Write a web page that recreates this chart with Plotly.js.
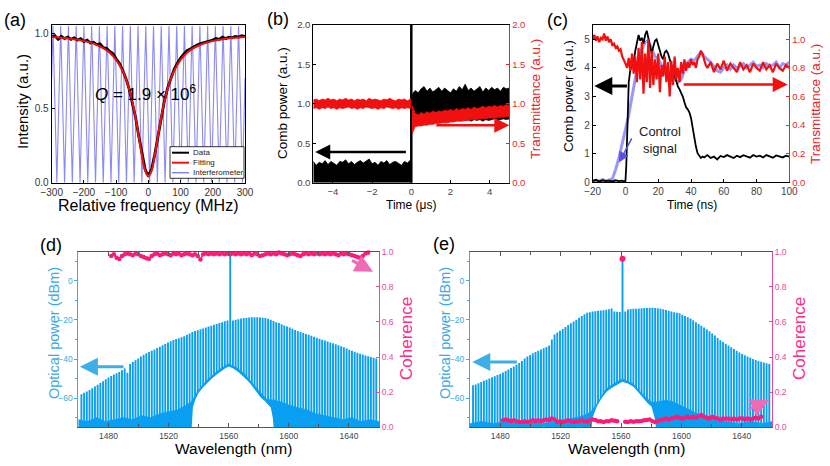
<!DOCTYPE html>
<html>
<head>
<meta charset="utf-8">
<script src="https://cdn.plot.ly/plotly-3.0.1.min.js"></script>
<style>
  html, body { margin: 0; padding: 0; background: #fff; }
  #chart { width: 830px; height: 466px; }
</style>
</head>
<body>
<div id="chart"></div>
<script>
// ---------- (a) resonance ----------
const interfFreq = [-300,-296,-284,-272,-260,-248,-236,-224,-212,-200,-188,-176,-164,-152,-140,-128,-116,-104,-92,-80,-68,-56,-44,-32,-20,-8,4,16,28,40,52,64,76,88,100,112,124,136,148,160,172,184,196,208,220,232,244,256,268,280,292,300];
const interfVal = [0.7,1.05,0,1.05,0,1.05,0,1.05,0,1.05,0,1.05,0,1.05,0,1.05,0,1.05,0,1.05,0,1.05,0,1.05,0,1.05,0,1.05,0,1.05,0,1.05,0,1.05,0,1.05,0,1.05,0,1.05,0,1.05,0,1.05,0,1.05,0,1.05,0,1.05,0,0.7];

const dataFreq = [-300,-290,-280,-270,-260,-250,-240,-230,-220,-210,-200,-190,-180,-170,-160,-150,-140,-130,-120,-110,-100,-90,-80,-70,-60,-50,-40,-30,-20,-10,-5,0,5,10,20,30,40,50,60,70,80,90,100,110,120,130,140,150,160,170,180,190,200,210,220,230,240,250,260,270,280,290,300];
const dataVal = [0.975,0.985,0.96,0.98,0.965,0.975,0.96,0.97,0.955,0.965,
  0.945,0.955,0.935,0.94,0.925,0.93,0.905,0.9,0.88,0.865,
  0.83,0.8,0.755,0.70,0.63,0.545,0.44,0.315,0.19,0.09,
  0.065,0.06,0.065,
  0.09,0.19,0.32,0.445,0.55,0.635,0.705,0.76,0.8,0.835,
  0.86,0.885,0.895,0.91,0.92,0.93,0.935,0.945,0.95,0.955,
  0.965,0.96,0.975,0.965,0.975,0.97,0.98,0.975,0.985,0.98];

const fitFreq = [-300,-280,-260,-240,-220,-200,-180,-160,-140,-120,-100,-80,-70,-60,-50,-40,-30,-20,-10,0,10,20,30,40,50,60,70,80,100,120,140,160,180,200,220,240,260,280,300];
const fitVal = [0.976,0.973,0.969,0.964,0.958,0.949,0.938,0.922,0.901,0.870,0.823,0.750,0.697,0.630,0.545,0.438,0.314,0.184,0.081,0.040,0.081,0.184,0.314,0.438,0.545,0.630,0.697,0.750,0.823,0.870,0.901,0.922,0.938,0.949,0.958,0.964,0.969,0.973,0.976];

// ---------- (b) switching, microseconds ----------
const bPreT = [-5,-4.85,-4.7,-4.55,-4.4,-4.25,-4.1,-3.95,-3.8,-3.65,-3.5,-3.35,-3.2,-3.05,-2.9,-2.75,-2.6,-2.45,-2.3,-2.15,-2,-1.85,-1.7,-1.55,-1.4,-1.25,-1.1,-0.95,-0.8,-0.65,-0.5,-0.35,-0.2,-0.03];
const combPreTop = [0.27,0.22,0.26,0.24,0.28,0.23,0.27,0.25,0.22,0.27,0.26,0.29,0.24,0.27,0.23,0.26,0.28,0.25,0.27,0.3,0.24,0.26,0.22,0.27,0.25,0.28,0.23,0.26,0.27,0.24,0.22,0.27,0.25,0.29];
const transPreLow = [0.94,0.95,0.93,0.95,0.94,0.96,0.94,0.95,0.93,0.95,0.94,0.95,0.96,0.94,0.95,0.93,0.95,0.94,0.96,0.95,0.94,0.95,0.93,0.95,0.94,0.96,0.95,0.94,0.95,0.93,0.95,0.94,0.95,0.94];
const transPreHigh = [1.05,1.06,1.04,1.06,1.05,1.07,1.05,1.06,1.04,1.06,1.05,1.07,1.05,1.06,1.04,1.06,1.05,1.06,1.04,1.07,1.05,1.06,1.05,1.04,1.06,1.05,1.07,1.05,1.04,1.06,1.05,1.06,1.04,1.06];

const bPostT = [0.04,0.2,0.35,0.5,0.65,0.8,0.95,1.1,1.25,1.4,1.55,1.7,1.85,2,2.15,2.3,2.45,2.6,2.75,2.9,3.05,3.2,3.35,3.5,3.65,3.8,3.95,4.1,4.25,4.4,4.55,4.7,4.85,5];
const combPostTop = [1.12,1.17,1.14,1.19,1.22,1.16,1.2,1.15,1.18,1.21,1.16,1.2,1.17,1.14,1.19,1.16,1.22,1.18,1.25,1.17,1.2,1.16,1.19,1.22,1.15,1.2,1.17,1.21,1.18,1.2,1.16,1.21,1.19,1.2];
const combPostLow = [0.84,0.84,0.83,0.84,0.83,0.82,0.83,0.82,0.83,0.82,0.81,0.82,0.81,0.82,0.8,0.81,0.8,0.81,0.79,0.8,0.78,0.8,0.79,0.8,0.78,0.8,0.79,0.8,0.81,0.79,0.8,0.81,0.8,0.81];
const transPostLow = [0.62,0.71,0.72,0.72,0.73,0.73,0.74,0.74,0.75,0.75,0.76,0.76,0.76,0.77,0.77,0.78,0.78,0.78,0.79,0.79,0.8,0.8,0.8,0.81,0.81,0.81,0.82,0.82,0.82,0.83,0.83,0.83,0.84,0.84];
const transPostHigh = [0.98,0.88,0.86,0.89,0.87,0.9,0.88,0.91,0.89,0.91,0.9,0.92,0.91,0.93,0.91,0.94,0.92,0.94,0.93,0.95,0.93,0.96,0.94,0.95,0.97,0.95,0.97,0.96,0.98,0.96,0.98,0.97,0.99,0.98];

// ---------- (c) switching, nanoseconds ----------
const cBlueT = [-20,-18,-16,-14,-12,-10,-8,-6,-4,-2,0,2,4,6,8,10,12,14,16,18,20,22,24,26,28,30,32,34,36,38,40,42,44,46,48,50,52,54,56,58,60,62,64,66,68,70,72,74,76,78,80,82,84,86,88,90,92,94,96,98,100];
const cBlueV = [0.05,0.08,0.03,0.1,0.05,0.08,0.12,0.45,0.85,1.35,
  1.8,2.35,3.0,3.6,4.25,4.65,4.9,4.95,4.7,4.4,
  4.3,4.1,3.8,3.7,3.9,3.6,3.5,3.6,3.9,4.2,
  4.3,4.25,4.4,4.55,4.4,4.3,4.2,4.05,3.9,3.85,
  4.0,4.1,3.95,4.1,4.0,4.05,4.15,4.0,4.1,4.2,
  4.05,4.1,4.0,4.15,4.05,4.1,4.2,4.0,4.15,4.1,
  4.2];

const cBlackT = [-20,-18,-16,-14,-12,-10,-8,-6,-4,-2,
  -1,0,0.5,1,1.5,2,3,4,5,6,
  7,8,9,10,11,12,13,14,15,16,
  17,18,19,20,21,22,23,24,25,26,
  27,28,29,30,31,32,33,34,35,36,
  37,38,39,40,41,42,43,44,45,46,
  47,48,50,52,54,56,58,60,62,64,
  66,68,70,72,74,76,78,80,82,84,
  86,88,90,92,94,96,98,100];
const cBlackV = [0.05,0.08,0.03,0.07,0.04,0.06,0.03,0.07,0.04,0.06,
  0.03,0.05,0.6,1.8,2.8,3.5,3.95,4.05,4.2,4.6,
  4.95,5.15,4.95,5.05,4.85,5.15,5.3,5.0,4.7,4.5,
  4.75,4.95,5.0,4.8,4.55,4.4,4.3,4.55,4.6,4.5,
  4.3,4.1,3.9,3.75,3.55,3.35,3.25,3.15,3.0,2.8,
  2.62,2.55,2.45,2.25,1.9,1.55,1.25,1.02,0.92,0.85,
  0.9,0.87,0.95,0.85,0.9,0.8,0.92,0.88,0.95,0.9,
  0.85,0.93,0.88,0.95,0.9,0.86,0.95,0.9,0.93,0.87,
  0.95,0.9,0.86,0.94,0.9,0.87,0.93,0.9];

const cRedT = [-20,-19,-18,-17,-16,-15,-14,-13,-12,-11,
  -10,-9,-8,-7,-6,-5,-4,-3,-2,-1,
  0,1,2,3,4,5,6,7,8,9,
  10,11,12,13,14,15,16,17,18,19,
  20,21,22,23,24,25,26,27,28,29,
  30,31,32,33,34,35,36,37,38,39,
  40,41,42,43,44,45,46,47,48,49,
  50,52,54,56,58,60,62,64,66,68,
  70,72,74,76,78,80,82,84,86,88,
  90,92,94,96,98,100];
const cRedV = [1.0,1.03,0.99,1.02,0.98,1.01,1.0,1.04,0.99,1.02,
  0.98,1.0,0.96,0.97,0.94,0.95,0.92,0.93,0.88,0.86,
  0.83,0.80,0.87,0.78,0.9,0.76,0.88,0.7,0.94,0.72,
  0.98,0.62,0.9,0.7,1.0,0.66,0.92,0.68,0.86,0.72,
  0.9,0.63,0.82,0.74,0.88,0.7,0.84,0.6,0.85,0.68,
  0.88,0.72,0.8,0.7,0.84,0.76,0.86,0.78,0.84,0.8,
  0.86,0.82,0.84,0.8,0.86,0.88,0.92,0.9,0.86,0.82,
  0.8,0.84,0.77,0.83,0.79,0.85,0.78,0.83,0.8,0.77,
  0.84,0.79,0.82,0.77,0.83,0.8,0.78,0.84,0.79,0.82,
  0.77,0.83,0.8,0.78,0.82,0.8];

// ---------- (d), (e) comb spectra ----------
const combNm = [1462.0,1463.8,1465.6,1467.4,1469.2,1471.0,1472.8,1474.6,1476.4,1478.2,
  1480.0,1481.8,1483.6,1485.4,1487.2,1489.0,1490.8,1492.6,1494.4,1496.2,
  1498.0,1499.8,1501.6,1503.4,1505.2,1507.0,1508.8,1510.6,1512.4,1514.2,
  1516.0,1517.8,1519.6,1521.4,1523.2,1525.0,1526.8,1528.6,1530.4,1532.2,
  1534.0,1535.8,1537.6,1539.4,1541.2,1543.0,1544.8,1546.6,1548.4,1550.2,
  1552.0,1553.8,1555.6,1557.4,1559.2,1561.0,1562.8,1564.6,1566.4,1568.2,
  1570.0,1571.8,1573.6,1575.4,1577.2,1579.0,1580.8,1582.6,1584.4,1586.2,
  1588.0,1589.8,1591.6,1593.4,1595.2,1597.0,1598.8,1600.6,1602.4,1604.2,
  1606.0,1607.8,1609.6,1611.4,1613.2,1615.0,1616.8,1618.6,1620.4,1622.2,
  1624.0,1625.8,1627.6,1629.4,1631.2,1633.0,1634.8,1636.6,1638.4,1640.2,
  1642.0,1643.8,1645.6,1647.4,1649.2,1651.0,1652.8,1654.6,1656.4,1658.2];

const combTopD = [-58.0,-57.3,-56.6,-55.9,-55.0,-54.1,-53.2,-52.3,-51.4,-50.4,
  -49.5,-48.7,-48.0,-47.3,-46.6,-45.8,-44.9,-47.0,-42.6,-41.5,
  -40.6,-39.7,-38.7,-37.8,-37.1,-36.4,-35.8,-35.1,-34.4,-33.7,
  -33.0,-32.3,-31.6,-30.9,-30.3,-29.8,-29.3,-28.8,-28.3,-27.6,
  -26.9,-26.2,-25.7,-25.2,-24.8,-24.3,-23.8,-23.4,-22.9,-22.5,
  -22.0,-21.5,-21.1,-20.7,-20.3,16,-20.2,-19.9,-19.6,-19.3,
  -19.0,-18.8,-18.7,-18.6,-18.6,-18.6,-18.7,-18.8,-19.0,-19.4,
  -19.9,-20.5,-21.1,-21.6,-22.2,-22.8,-23.4,-23.9,-24.5,-25.1,
  -25.6,-26.2,-26.7,-27.2,-27.6,-28.1,-28.6,-29.1,-29.6,-30.1,
  -30.5,-31.0,-31.5,-31.9,-32.4,-33.0,-33.5,-34.0,-34.6,-35.2,
  -35.8,-36.3,-36.8,-37.3,-37.7,-38.2,-38.6,-39.0,-39.4,-39.8];

const combTopE = [-53.5,-53.0,-52.4,-51.8,-51.2,-50.6,-50.0,-49.4,-48.8,-48.2,
  -47.6,-46.9,-46.2,-45.4,-44.6,-43.8,-43.0,-42.1,-41.0,-39.8,
  -38.7,-37.9,-37.1,-36.4,-35.8,-35.1,-34.5,-33.8,-33.1,-30.0,
  -27.5,-26.4,-25.5,-24.6,-23.6,-22.6,-21.7,-20.8,-19.9,-18.9,
  -17.9,-17.0,-16.3,-16.0,-15.7,-15.5,-15.3,-15.2,-15.0,-14.8,
  -14.5,-14.1,-15.6,-15.8,-15.9,11.6,-15.6,-14.6,-14.4,-14.3,
  -14.2,-14.1,-14.0,-13.9,-13.8,-13.7,-13.7,-13.8,-14.0,-14.2,
  -14.5,-14.9,-15.3,-15.7,-16.0,-16.3,-16.6,-17.3,-18.0,-18.6,
  -19.2,-20.1,-21.1,-22.1,-23.0,-23.9,-24.8,-25.8,-26.9,-28.0,
  -29.2,-30.4,-31.3,-32.2,-33.1,-34.0,-34.9,-35.8,-36.7,-37.4,
  -38.1,-38.7,-39.4,-40.0,-40.5,-41.0,-41.4,-41.8,-42.2,-42.6];

// noise floor (solid blue) upper edge, and the clear region under the pump pedestal
const noiseNmD = [1460,1460,1466,1472,1478,1484,1490,1496,1502,1508,1514,1520,1526,1531,1535,1540,1545,1550,1555,1560,1565,1570,1575,1580,1585,1590,1595,1600,1606,1612,1618,1624,1630,1636,1642,1648,1654,1660,1660];
const noiseDbmD = [-76,-71,-72,-70,-72,-71,-70,-71,-69,-70,-68,-67,-66,-64,-62,-55.8,-51.3,-47.7,-44.7,-42.4,-44.3,-47.2,-51.7,-56.5,-60.5,-61,-62,-63.5,-65,-66,-68,-69,-70,-71,-70,-72,-71,-72,-76];
const holeNmD = [1535.3,1536.2,1538,1540,1543,1546,1549,1552,1555,1558,1560.2,1563,1566,1569,1572,1575,1578,1581,1584,1586,1588,1589.3,1590];
const holeDbmD = [-76,-64.5,-60.5,-57.3,-54.5,-52,-49.8,-48,-46.2,-44.6,-43.9,-44.8,-46.4,-48.3,-50.6,-53.2,-56.6,-59.5,-61.5,-63,-64.8,-70,-76];

const noiseNmE = [1460,1460,1468,1476,1484,1492,1500,1508,1516,1524,1530,1535,1540,1544,1550,1557,1561,1568,1575,1580,1584,1590,1595,1600,1605,1610,1616,1622,1630,1638,1646,1654,1660,1660];
const noiseDbmE = [-76,-73,-72,-73,-72,-73,-72,-73,-72,-71,-70,-69,-67,-63,-55.3,-51.8,-50.1,-52.7,-58.7,-62,-62,-61,-62,-64,-66,-68,-70,-71,-72,-73,-72,-73,-72,-76];
const holeNmE = [1540.4,1541.2,1543.9,1547,1550.5,1554,1557.2,1560.9,1564.5,1568.2,1571.5,1574.8,1577.5,1580.3,1582.5,1583.3];
const holeDbmE = [-76,-70,-64.5,-60.2,-56.8,-54.7,-53.3,-51.6,-52.6,-54.2,-57,-60.2,-62.5,-64.5,-71,-76];

// coherence per comb line, lines 11..106
const cohD = [0.975,0.985,0.965,0.958,0.975,0.985,0.99,0.985,0.98,0.99,
  0.985,0.975,0.97,0.962,0.96,0.975,0.985,0.99,0.98,0.985,
  0.99,0.985,0.98,0.99,0.985,0.99,0.98,0.985,0.99,0.985,
  0.98,0.985,0.975,0.955,0.985,0.99,0.985,0.99,0.985,0.99,
  0.985,0.99,0.985,0.99,0.985,0.99,0.985,0.99,0.985,0.99,
  0.985,0.99,0.98,0.99,0.985,0.975,0.98,0.985,0.99,0.985,
  0.99,0.985,0.995,0.99,0.985,0.98,0.985,0.99,0.985,0.98,
  0.975,0.985,0.99,0.985,0.99,0.985,0.99,0.985,0.99,0.985,
  0.99,0.985,0.99,0.985,0.98,0.99,0.985,0.99,0.985,0.98,
  0.975,0.97,0.965,0.975,0.99,0.995];
const cohE = [0.04,0.045,0.04,0.035,0.04,0.035,0.03,0.03,0.035,0.03,
  0.035,0.04,0.035,0.04,0.035,0.04,0.045,0.04,0.05,0.045,
  0.03,0.035,0.03,0.035,0.04,0.035,0.03,0.035,0.035,0.04,
  0.035,0.033,0.04,0.045,0.042,0.035,0.035,0.03,0.035,0.035,
  0.04,0.038,0.035,null,null,0.032,0.03,0.035,0.032,0.035,
  0.035,0.036,0.04,0.042,0.045,0.035,0.03,0.038,0.04,0.045,
  0.05,0.045,0.05,0.055,0.06,0.055,0.05,0.055,0.06,0.055,
  0.06,0.055,0.065,0.07,0.06,0.055,0.05,0.06,0.055,0.05,
  0.045,0.05,0.048,0.05,0.045,0.05,0.045,0.05,0.052,0.045,
  0.05,0.045,0.05,0.055,0.05,0.06];
const pumpCohE = [0.96];

// ---------- styling ----------
const W = 830, H = 466;
const px = v => v / W;
const py = v => 1 - v / H;
const FONT = 'Liberation Sans, Arial, sans-serif';
const RED = '#f20f0f';
const RED_AX = '#e8232b';
const COMB = '#0a9ff0';
const BLUE_AX = '#3aa9e6';
const PINK = '#ff1a78';
const PINK_AX = '#e64b98';
const FLOOR = -80;

function band(t, low, high) {
  return { x: t.concat(t.slice().reverse()), y: low.concat(high.slice().reverse()) };
}
function combSegments(nm, top) {
  const x = [], y = [];
  nm.forEach((v, i) => { x.push(v, v, null); y.push(FLOOR, top[i], null); });
  return { x, y };
}

const traces = [];
// (a)
traces.push({ x: interfFreq, y: interfVal, xaxis: 'x', yaxis: 'y', mode: 'lines',
  line: { color: 'rgba(118,118,242,0.85)', width: 1.1 } });
traces.push({ x: dataFreq, y: dataVal, xaxis: 'x', yaxis: 'y', mode: 'lines',
  line: { color: '#000', width: 2.8 } });
traces.push({ x: fitFreq, y: fitVal, xaxis: 'x', yaxis: 'y', mode: 'lines',
  line: { color: RED, width: 2, shape: 'spline' } });

// (b)
traces.push({ x: bPreT, y: combPreTop, xaxis: 'x2', yaxis: 'y2', mode: 'lines', fill: 'tozeroy',
  fillcolor: '#000', line: { color: '#000', width: 0.8 } });
const bPost = band(bPostT, combPostLow, combPostTop);
traces.push({ x: bPost.x, y: bPost.y, xaxis: 'x2', yaxis: 'y2', mode: 'lines', fill: 'toself',
  fillcolor: '#000', line: { color: '#000', width: 0.8 } });
traces.push({ x: [0, 0], y: [0, 2], xaxis: 'x2', yaxis: 'y2', mode: 'lines',
  line: { color: '#000', width: 2.5 } });
const tPre = band(bPreT, transPreLow, transPreHigh);
traces.push({ x: tPre.x, y: tPre.y, xaxis: 'x2', yaxis: 'y3', mode: 'lines', fill: 'toself',
  fillcolor: RED, line: { color: RED, width: 0.8 } });
const tPost = band(bPostT, transPostLow, transPostHigh);
traces.push({ x: tPost.x, y: tPost.y, xaxis: 'x2', yaxis: 'y3', mode: 'lines', fill: 'toself',
  fillcolor: RED, line: { color: RED, width: 0.8 } });

// (c)
traces.push({ x: cBlueT, y: cBlueV, xaxis: 'x3', yaxis: 'y4', mode: 'lines',
  line: { color: 'rgba(118,118,250,0.75)', width: 3 } });
traces.push({ x: cBlackT, y: cBlackV, xaxis: 'x3', yaxis: 'y4', mode: 'lines',
  line: { color: '#000', width: 1.8 } });
traces.push({ x: cRedT, y: cRedV, xaxis: 'x3', yaxis: 'y5', mode: 'lines',
  line: { color: RED, width: 2.2 } });

// (d) and (e)
function spectrum(xa, ya, top, noiseNm, noiseDbm, holeNm, holeDbm) {
  traces.push({ x: noiseNm, y: noiseDbm, xaxis: xa, yaxis: ya, mode: 'lines', fill: 'toself',
    fillcolor: COMB, line: { color: COMB, width: 0.5 } });
  const seg = combSegments(combNm, top);
  traces.push({ x: seg.x, y: seg.y, xaxis: xa, yaxis: ya, mode: 'lines', connectgaps: false,
    line: { color: COMB, width: 1.9 } });
  traces.push({ x: holeNm, y: holeDbm, xaxis: xa, yaxis: ya, mode: 'lines', fill: 'toself',
    fillcolor: '#fff', line: { color: '#fff', width: 0 } });
}
spectrum('x4', 'y6', combTopD, noiseNmD, noiseDbmD, holeNmD, holeDbmD);
traces.push({ x: combNm.slice(11, 107), y: cohD, xaxis: 'x4', yaxis: 'y7', mode: 'lines+markers',
  cliponaxis: false, line: { color: PINK, width: 1.5 }, marker: { color: PINK, size: 4.5 } });
spectrum('x5', 'y8', combTopE, noiseNmE, noiseDbmE, holeNmE, holeDbmE);
traces.push({ x: combNm.slice(11, 107), y: cohE, xaxis: 'x5', yaxis: 'y9', mode: 'lines+markers',
  connectgaps: false, cliponaxis: false, line: { color: PINK, width: 1.5 }, marker: { color: PINK, size: 4.5 } });
traces.push({ x: [combNm[55]], y: pumpCohE, xaxis: 'x5', yaxis: 'y9', mode: 'markers',
  cliponaxis: false, marker: { color: PINK, size: 6 } });

traces.forEach(t => { t.showlegend = false; t.hoverinfo = 'skip'; });

function ax(extra) {
  return Object.assign({ showgrid: false, zeroline: false, showline: true, linecolor: '#000', linewidth: 1,
    ticks: 'inside', ticklen: 3, tickcolor: '#000', tickfont: { size: 10, color: '#333' } }, extra);
}
const topRow = [py(182.7), py(25)];
const botRow = [py(427.3), py(251.7)];
const specX = (dom, anchor) => ax({ domain: dom, anchor: anchor, range: [1460, 1660], tick0: 1480, dtick: 40,
  mirror: 'ticks', ticklen: 4, linecolor: '#555', tickcolor: '#555', tickfont: { size: 8.5, color: '#444' },
  minor: { tick0: 1460, dtick: 20, ticks: 'inside', ticklen: 3, tickcolor: '#555' } });
const specYL = (dom, anchor) => ax({ domain: dom, anchor: anchor, range: [-75, 15], tick0: -60, dtick: 20,
  linecolor: BLUE_AX, tickcolor: BLUE_AX, ticks: 'outside', tickfont: { size: 8.5, color: BLUE_AX },
  minor: { dtick: 10, ticks: 'outside', ticklen: 2, tickcolor: BLUE_AX } });
const specYR = (over, anchor) => ax({ overlaying: over, side: 'right', anchor: anchor, range: [0, 1], dtick: 0.2,
  tickformat: '.1f', linecolor: PINK_AX, tickcolor: PINK_AX, tickfont: { size: 8.5, color: PINK_AX } });

function label(text, x, y, size, color, angle, extra) {
  return Object.assign({ text: text, xref: 'paper', yref: 'paper', x: px(x), y: py(y), showarrow: false,
    xanchor: 'center', yanchor: 'middle', textangle: angle || 0,
    font: { family: FONT, size: size, color: color || '#000' } }, extra || {});
}
function arrow(xr, yr, tailX, tailY, tipX, tipY, color, width, size) {
  return { xref: xr, yref: yr, axref: xr, ayref: yr, x: tipX, y: tipY, ax: tailX, ay: tailY, text: '',
    showarrow: true, arrowhead: 2, arrowsize: size || 1.2, arrowwidth: width, arrowcolor: color };
}

const annotations = [
  label('(a)', 15, 20, 18), label('(b)', 278, 19, 18), label('(c)', 557, 20, 18),
  label('(d)', 51, 245, 18), label('(e)', 444, 244, 18),
  label('Intensity (a.u.)', 23, 102, 15, '#000', -90),
  label('Relative frequency (MHz)', 148, 205, 16),
  label('<i>Q</i> = 1.9 × 10<sup>6</sup>', 146, 93, 17),
  label('Data', 191, 152.7, 8, '#222', 0, { xanchor: 'left' }),
  label('Fitting', 191, 162.7, 8, '#222', 0, { xanchor: 'left' }),
  label('Interferometer', 191, 172.7, 8, '#222', 0, { xanchor: 'left' }),
  label('Comb power (a.u.)', 282, 103, 13.5, '#000', -90),
  label('Transmittance (a.u.)', 536, 99, 13.5, RED_AX, -90),
  label('Time (μs)', 411, 205, 12),
  label('Comb power (a.u.)', 569, 96, 13.5, '#000', -90),
  label('Transmittance (a.u.)', 815, 104, 13.5, RED_AX, -90),
  label('Time (ns)', 692, 205, 12),
  label('Control<br>signal', 660, 140, 13, '#222'),
  label('Optical power (dBm)', 54, 333, 14.5, BLUE_AX, -90),
  label('Coherence', 406, 339, 17, '#ff2d86', -90),
  label('Wavelength (nm)', 233, 448, 15.5),
  label('Optical power (dBm)', 445, 333, 14.5, BLUE_AX, -90),
  label('Coherence', 799, 339, 17, '#ff2d86', -90),
  label('Wavelength (nm)', 626, 448, 15.5),
  arrow('x2', 'y2', -0.2, 0.39, -4.9, 0.39, '#000', 2.5),
  arrow('x2', 'y3', 1.2, 0.73, 5.0, 0.73, RED, 2.5),
  arrow('x3', 'y4', 1.8, 3.37, -19.0, 3.37, '#000', 3),
  arrow('x3', 'y5', 34.6, 0.684, 99, 0.684, RED, 2.5),
  arrow('x3', 'y4', 4.3, 1.59, -3.9, 0.69, '#5a4fe0', 1.5, 1.4),
  arrow('x4', 'y6', 1491, -44, 1461, -44, '#3eaee6', 3),
  arrow('x4', 'y7', 1641, 0.955, 1656, 0.886, '#f06ab4', 3),
  arrow('x5', 'y8', 1492, -41.5, 1461.5, -41.5, '#3eaee6', 3),
  arrow('x5', 'y9', 1643.7, 0.10, 1658, 0.155, '#f06ab4', 3)
];

const shapes = [
  { type: 'rect', xref: 'paper', yref: 'paper', x0: px(170), x1: px(244), y0: py(178.3), y1: py(146.7),
    line: { color: '#000', width: 0.8 }, fillcolor: '#fff', layer: 'above' },
  { type: 'line', xref: 'paper', yref: 'paper', x0: px(172), x1: px(189), y0: py(152.7), y1: py(152.7),
    line: { color: '#000', width: 2 }, layer: 'above' },
  { type: 'line', xref: 'paper', yref: 'paper', x0: px(172), x1: px(189), y0: py(162.7), y1: py(162.7),
    line: { color: RED, width: 2 }, layer: 'above' },
  { type: 'line', xref: 'paper', yref: 'paper', x0: px(172), x1: px(189), y0: py(172.7), y1: py(172.7),
    line: { color: 'rgba(118,118,242,0.9)', width: 1.5 }, layer: 'above' }
];

const layout = {
  width: W, height: H, autosize: false,
  margin: { l: 0, r: 0, t: 0, b: 0, pad: 0 },
  paper_bgcolor: '#fff', plot_bgcolor: '#fff',
  font: { family: FONT, color: '#000' },
  showlegend: false,
  xaxis: ax({ domain: [px(51.7), px(245)], anchor: 'y', range: [-300, 300], dtick: 100, mirror: true }),
  yaxis: ax({ domain: topRow, anchor: 'x', range: [0, 1.056], tick0: 0, dtick: 0.5, tickformat: '.1f', mirror: true }),
  xaxis2: ax({ domain: [px(313.3), px(509.3)], anchor: 'y2', range: [-5, 5], tick0: -4, dtick: 2, mirror: true,
    tickfont: { size: 9.5, color: '#444' } }),
  yaxis2: ax({ domain: topRow, anchor: 'x2', range: [0, 2], dtick: 0.5, tickformat: '.1f',
    tickfont: { size: 9.5, color: '#444' } }),
  yaxis3: ax({ overlaying: 'y2', side: 'right', anchor: 'x2', range: [0, 2], dtick: 0.5, tickformat: '.1f',
    linecolor: RED_AX, tickcolor: RED_AX, tickfont: { size: 9.5, color: RED_AX } }),
  xaxis3: ax({ domain: [px(592.7), px(789.3)], anchor: 'y4', range: [-20, 100], dtick: 20, mirror: true,
    tickfont: { size: 10, color: '#444' } }),
  yaxis4: ax({ domain: [py(182.3), py(25)], anchor: 'x3', range: [0, 5.5], dtick: 1,
    tickfont: { size: 10, color: '#444' } }),
  yaxis5: ax({ overlaying: 'y4', side: 'right', anchor: 'x3', range: [0, 1.1], dtick: 0.2, tickformat: '.1f',
    linecolor: RED_AX, tickcolor: RED_AX, tickfont: { size: 9.5, color: RED_AX } }),
  xaxis4: specX([px(78.4), px(379)], 'y6'),
  yaxis6: specYL(botRow, 'x4'),
  yaxis7: specYR('y6', 'x4'),
  xaxis5: specX([px(470), px(772)], 'y8'),
  yaxis8: specYL(botRow, 'x5'),
  yaxis9: specYR('y8', 'x5'),
  annotations: annotations,
  shapes: shapes
};

Plotly.newPlot('chart', traces, layout, { displayModeBar: false, staticPlot: true });
</script>
</body>
</html>
